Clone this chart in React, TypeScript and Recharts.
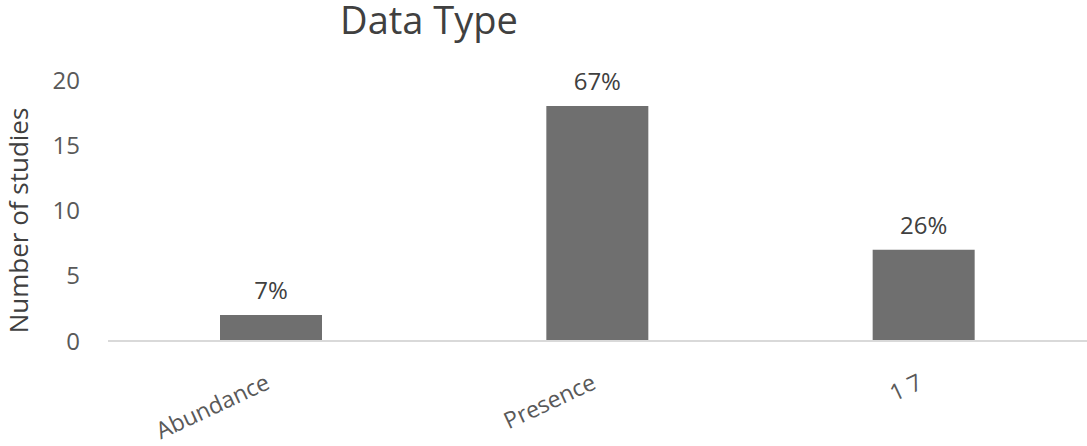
import { BarChart, Bar, XAxis, YAxis, LabelList } from 'recharts';

const categories = ['Abundance', 'Presence', '1 7'];
const studies = [2, 18, 7];
const shares = ['7%', '67%', '26%'];
const yTicks = [0, 5, 10, 15, 20];

const data = categories.map((name, i) => ({ name, studies: studies[i], share: shares[i] }));

const FONT = '"Open Sans", "Liberation Sans", sans-serif';

function RotatedTick(props: any) {
  const { x, y, payload } = props;
  const ax = x;
  const ay = y + 39;
  return (
    <text
      x={ax}
      y={ay}
      textAnchor="end"
      transform={`rotate(-25, ${ax}, ${ay})`}
      fill="#595959"
      fontSize={23}
      fontFamily={FONT}
    >
      {payload.value}
    </text>
  );
}

export default function App() {
  return (
    <div style={{ position: 'absolute', left: 0, top: 0, width: 1087, height: 446, background: '#fff', overflow: 'hidden' }}>
      <div style={{
        position: 'absolute', left: 0, width: 858, top: 0, textAlign: 'center', lineHeight: '38px',
        fontFamily: FONT, fontSize: 38, color: '#404040', whiteSpace: 'nowrap',
      }}>
        Data Type
      </div>
      <BarChart
        width={1087}
        height={446}
        data={data}
        margin={{ top: 80, right: 0, left: 0, bottom: 0 }}
        barCategoryGap={0}
      >
        <XAxis
          dataKey="name"
          axisLine={{ stroke: '#d9d9d9', strokeWidth: 2 }}
          tickLine={false}
          interval={0}
          tick={<RotatedTick />}
          height={105}
        />
        <YAxis
          domain={[0, 20]}
          ticks={yTicks}
          axisLine={false}
          tickLine={false}
          width={108}
          tickMargin={22}
          tick={{ fill: '#595959', fontSize: 24, fontFamily: FONT }}
          label={{
            value: 'Number of studies', angle: -90, position: 'insideLeft', offset: 0,
            dx: 19, dy: 10, fill: '#404040', fontSize: 26, fontFamily: FONT, style: { textAnchor: 'middle' },
          }}
        />
        <Bar dataKey="studies" fill="#6f6f6f" barSize={102} isAnimationActive={false}>
          <LabelList dataKey="share" position="top" offset={16} fill="#404040" fontSize={24} fontFamily={FONT} />
        </Bar>
      </BarChart>
    </div>
  );
}
